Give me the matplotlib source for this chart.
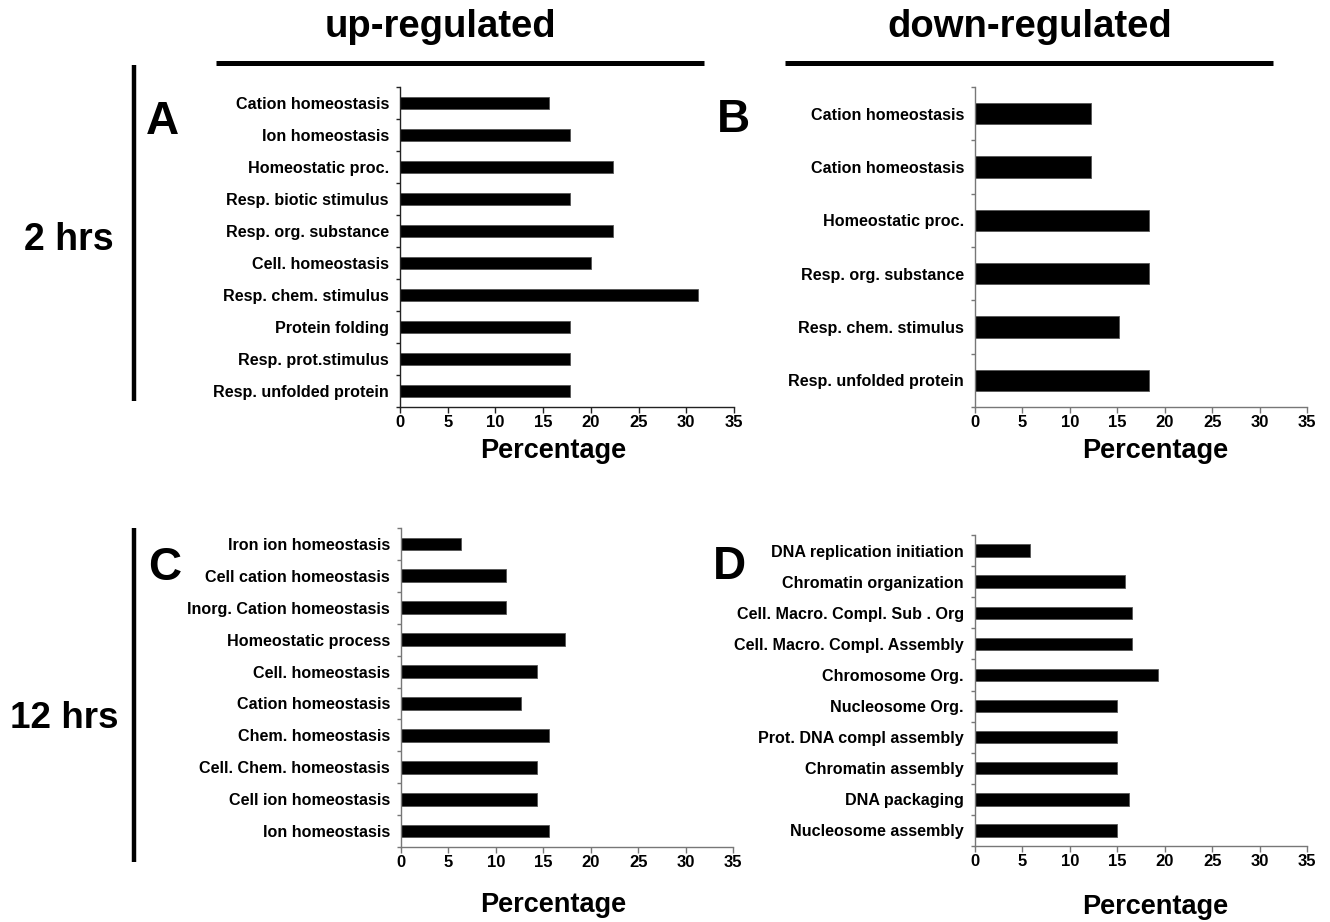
import matplotlib
matplotlib.use("Agg")
import matplotlib.pyplot as plt
from matplotlib.lines import Line2D
from matplotlib.ticker import FixedLocator

plt.rcParams['font.family'] = ['Liberation Sans', 'DejaVu Sans']
plt.rcParams['font.weight'] = 'bold'

# ---- data ----
cats_A = ["Cation homeostasis", "Ion homeostasis", "Homeostatic proc.",
          "Resp. biotic stimulus", "Resp. org. substance", "Cell. homeostasis",
          "Resp. chem. stimulus", "Protein folding", "Resp. prot.stimulus",
          "Resp. unfolded protein"]
vals_A = [15.6, 17.8, 22.3, 17.8, 22.3, 20.0, 31.2, 17.8, 17.8, 17.8]

cats_B = ["Cation homeostasis", "Cation homeostasis", "Homeostatic proc.",
          "Resp. org. substance", "Resp. chem. stimulus", "Resp. unfolded protein"]
vals_B = [12.2, 12.2, 18.3, 18.3, 15.2, 18.3]

cats_C = ["Iron ion homeostasis", "Cell cation homeostasis", "Inorg. Cation homeostasis",
          "Homeostatic process", "Cell. homeostasis", "Cation homeostasis",
          "Chem. homeostasis", "Cell. Chem. homeostasis", "Cell ion homeostasis",
          "Ion homeostasis"]
vals_C = [6.3, 11.1, 11.1, 17.3, 14.3, 12.6, 15.6, 14.3, 14.3, 15.6]

cats_D = ["DNA replication initiation", "Chromatin organization",
          "Cell. Macro. Compl. Sub . Org", "Cell. Macro. Compl. Assembly",
          "Chromosome Org.", "Nucleosome Org.", "Prot. DNA compl assembly",
          "Chromatin assembly", "DNA packaging", "Nucleosome assembly"]
vals_D = [5.8, 15.8, 16.5, 16.5, 19.3, 15.0, 15.0, 15.0, 16.2, 15.0]

x_ticks = [0, 5, 10, 15, 20, 25, 30, 35]

W, H = 1330, 922
fig = plt.figure(figsize=(W / 100, H / 100), dpi=100)


def px_axes(l, r, t, b):
    return fig.add_axes([l / W, 1 - b / H, (r - l) / W, (b - t) / H])


def ftext(x, y, s, size, **kw):
    fig.text(x / W, 1 - y / H, s, fontsize=size, fontweight='bold',
             ha='center', va='center', **kw)


def panel(ax, cats, vals, spine_col):
    n = len(cats)
    pos = [n - 1 - i for i in range(n)]
    ax.barh(pos, vals, height=0.4, color='black', edgecolor='#555555', linewidth=0.6)
    ax.set_xlim(0, 35)
    ax.set_ylim(-0.5, n - 0.5)
    ax.set_xticks(x_ticks)
    ax.set_xticklabels([str(t) for t in x_ticks], fontsize=12, fontweight='bold')
    ax.set_yticks(pos)
    ax.set_yticklabels(cats, fontsize=11.6, fontweight='bold')
    ax.yaxis.set_minor_locator(FixedLocator([k - 0.5 for k in range(n + 1)]))
    ax.tick_params(axis='y', which='major', length=0, pad=8)
    ax.tick_params(axis='y', which='minor', length=3, width=1, color=spine_col)
    ax.tick_params(axis='x', which='major', length=4, width=1, color=spine_col, pad=2)
    for s in ['top', 'right']:
        ax.spines[s].set_visible(False)
    for s in ['left', 'bottom']:
        ax.spines[s].set_color(spine_col)
        ax.spines[s].set_linewidth(1.0)


axA = px_axes(400, 734, 87, 407)
panel(axA, cats_A, vals_A, '#222222')
axB = px_axes(975, 1307, 87, 407)
panel(axB, cats_B, vals_B, '#777777')
axC = px_axes(401, 733, 528, 847)
panel(axC, cats_C, vals_C, '#777777')
axD = px_axes(975, 1307, 535, 846)
panel(axD, cats_D, vals_D, '#777777')

# x-axis titles
ftext(553, 451, "Percentage", 19.5)
ftext(1155, 451, "Percentage", 19.5)
ftext(553, 905, "Percentage", 19.5)
ftext(1155, 907, "Percentage", 19.5)


def fline(x0, y0, x1, y1, lw):
    fig.add_artist(Line2D([x0 / W, x1 / W], [1 - y0 / H, 1 - y1 / H],
                          transform=fig.transFigure, color='black', linewidth=lw,
                          solid_capstyle='butt'))


ftext(440, 27, "up-regulated", 27.5)
ftext(1030, 27, "down-regulated", 27.5)
fline(216, 63, 704, 63, 3.6)
fline(785, 63, 1273, 63, 3.6)
fline(134, 65, 134, 401, 3.2)
fline(134, 528, 134, 862, 3.2)
ftext(69, 240, "2 hrs", 27)
ftext(64, 718, "12 hrs", 26.5)
ftext(162, 122, "A", 33)
ftext(733, 120, "B", 33)
ftext(165, 568, "C", 33)
ftext(729, 567, "D", 33)

fig.savefig("out.png", dpi=100)
